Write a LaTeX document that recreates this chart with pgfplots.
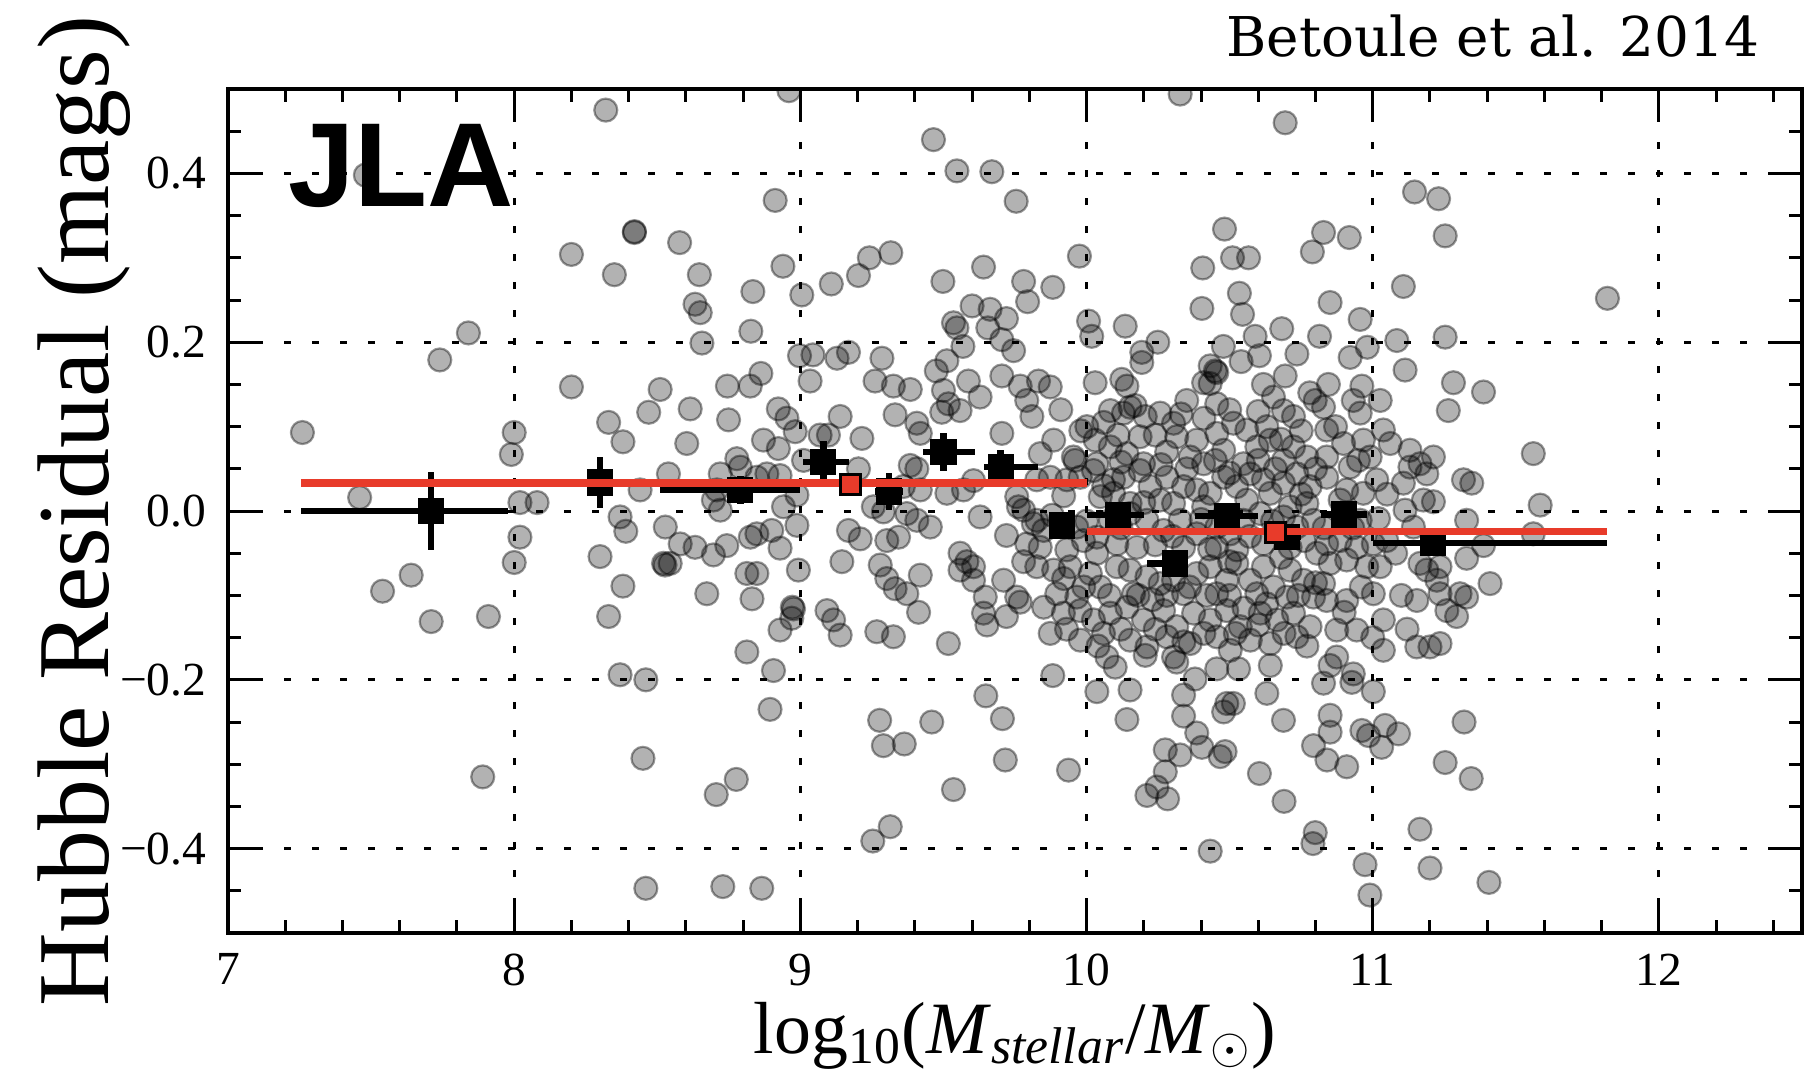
\documentclass[border=0pt]{standalone}
\usepackage{fontspec}
\setmainfont{Liberation Serif}
\newfontfamily\dejaserif{DejaVu Serif}
\newfontfamily\jlafont{Liberation Sans}
\usepackage{pgfplots}
\pgfplotsset{compat=1.18}
\definecolor{redline}{RGB}{232,59,42}

\begin{document}
\begin{tikzpicture}
\begin{axis}[scale only axis, width=157.4mm, height=84.4mm,
 xmin=7, xmax=12.5, ymin=-0.5, ymax=0.5,
 xtick={7,8,9,10,11,12}, xticklabels={7,8,9,10,11,12},
 ytick={-0.4,-0.2,0,0.2,0.4}, yticklabels={−0.4,−0.2,0.0,0.2,0.4},
 minor xtick={7.2,7.4,7.6,7.8,8.2,8.4,8.6,8.8,9.2,9.4,9.6,9.8,10.2,10.4,10.6,10.8,11.2,11.4,11.6,11.8,12.2,12.4},
 minor ytick={-0.45,-0.35,-0.3,-0.25,-0.15,-0.1,-0.05,0.05,0.1,0.15,0.25,0.3,0.35,0.45},
 tick align=inside, major tick length=3.3mm, minor tick length=1.3mm,
 tick style={line width=0.3mm, black},
 axis line style={line width=0.35mm},
 grid=major, major grid style={line width=0.3mm, black, dash pattern=on 0.7mm off 2.1mm},
 ticklabel style={font=\fontsize{13.5}{14}\selectfont},
 xticklabel style={inner sep=0pt, yshift=-2mm},
 yticklabel style={inner sep=0pt, xshift=-2.1mm},
 clip marker paths=true]

% supernovae
\addplot[only marks, mark=*, mark size=1.15mm, draw=black, fill=black,
 fill opacity=0.3, draw opacity=0.4, line width=0.22mm] coordinates {
(7.26,0.093) (7.46,0.016) (7.54,-0.095) (7.64,-0.076) (7.71,-0.131) (7.74,0.179) (7.84,0.211) (7.89,-0.315) (7.91,-0.125) (7.48,0.398)
(8.00,0.093) (7.99,0.067) (8.02,-0.031) (8.00,-0.061) (8.02,0.010) (8.08,0.010)
(8.32,0.475) (8.42,0.330) (8.42,0.331) (8.20,0.304) (8.35,0.280) (8.20,0.147) (8.33,0.105) (8.38,0.082) (8.47,0.117)
(8.30,-0.054) (8.38,-0.089) (8.33,-0.125) (8.37,-0.194) (8.39,-0.024) (8.37,-0.007) (8.46,-0.200) (8.45,-0.293) (8.46,-0.447) (8.44,0.025)
(8.96,0.498) (9.465,0.44) (9.547,0.403) (9.669,0.402) (9.754,0.367) (8.912,0.368) (8.578,0.318) (8.647,0.28) (8.939,0.29) (8.834,0.26)
(9.005,0.256) (9.108,0.269) (9.203,0.279) (9.241,0.30) (9.316,0.306) (9.498,0.272) (9.64,0.289) (9.78,0.272) (9.794,0.248) (8.632,0.245)
(8.65,0.235) (8.827,0.213) (8.656,0.199) (9.60,0.243) (9.663,0.239) (9.72,0.228) (9.535,0.223) (9.547,0.217) (9.655,0.217) (9.568,0.195)
(9.704,0.203) (9.745,0.19) (9.512,0.178) (9.475,0.166) (8.997,0.184) (9.044,0.185) (9.128,0.181) (9.168,0.188) (9.285,0.181) (8.862,0.163)
(9.034,0.154) (8.745,0.148) (8.825,0.148) (9.261,0.154) (9.325,0.148) (9.384,0.144) (9.587,0.154) (9.704,0.16) (9.768,0.148) (9.832,0.154) (8.51,0.144)
(8.615,0.121) (8.749,0.108) (8.603,0.080) (8.871,0.084) (8.923,0.074) (8.923,0.121) (8.953,0.110) (8.982,0.094) (9.139,0.112) (9.098,0.090)
(9.215,0.086) (9.331,0.114) (9.407,0.104) (9.419,0.092) (9.500,0.143) (9.517,0.127) (9.494,0.117) (9.558,0.119) (9.628,0.135) (9.704,0.092)
(9.791,0.131) (9.809,0.112) (8.539,0.044) (8.720,0.044) (8.790,0.052) (8.848,0.040) (8.883,0.044) (8.929,0.042) (8.778,0.062) (9.011,0.060)
(9.069,0.090) (9.203,0.050) (9.384,0.054) (9.407,0.050) (9.360,0.029) (9.419,0.025) (9.512,0.021) (9.570,0.025) (9.605,0.036) (9.756,0.017)
(9.780,0.001) (8.708,0.025) (8.696,0.013) (8.720,0.001) (8.941,0.005) (8.988,0.019) (8.528,-0.019) (8.580,-0.039) (8.632,-0.043) (8.696,-0.052)
(8.743,-0.041) (8.522,-0.062) (8.527,-0.064) (8.545,-0.062) (8.825,-0.031) (8.848,-0.027) (8.900,-0.023) (8.929,-0.044) (8.988,-0.017) (8.813,-0.074)
(8.848,-0.074) (8.673,-0.098) (8.831,-0.104) (8.993,-0.070) (8.976,-0.116) (8.972,-0.114) (8.970,-0.127) (8.929,-0.141) (8.813,-0.167) (9.145,-0.060)
(9.168,-0.023) (9.209,-0.033) (9.093,-0.118) (9.116,-0.129) (9.139,-0.147) (9.267,-0.143) (9.325,-0.149) (9.279,-0.064) (9.302,-0.080) (9.331,-0.092)
(9.372,-0.098) (9.413,-0.120) (9.302,-0.035) (9.343,-0.031) (9.290,-0.001) (9.419,-0.076) (9.372,-0.003) (9.407,-0.011) (9.454,-0.019) (9.517,-0.157)
(9.558,-0.050) (9.582,-0.060) (9.558,-0.070) (9.605,-0.066) (9.605,-0.082) (9.710,-0.082) (9.756,-0.102) (9.646,-0.102) (9.640,-0.121) (9.652,-0.135)
(9.720,-0.125) (9.768,-0.108) (9.720,-0.029) (9.791,-0.039) (9.814,-0.015) (9.762,0.005) (9.780,-0.060) (9.826,-0.066) (9.628,-0.007) (9.255,0.005)
(8.906,-0.189) (8.894,-0.235) (8.776,-0.318) (8.706,-0.336) (8.729,-0.445) (8.865,-0.447) (9.277,-0.248) (9.290,-0.278) (9.363,-0.276) (9.459,-0.250)
(9.648,-0.219) (9.706,-0.246) (9.716,-0.295) (9.535,-0.330) (9.314,-0.374) (9.253,-0.391)
(10.327,0.494) (10.694,0.460) (9.975,0.302) (10.482,0.334) (10.510,0.300) (10.566,0.300) (10.406,0.288) (10.789,0.307) (10.828,0.330) (9.882,0.265)
(10.403,0.240) (10.534,0.258) (10.545,0.233) (10.007,0.225) (10.018,0.207) (10.135,0.219) (10.249,0.200) (10.193,0.188) (10.193,0.176) (10.478,0.195)
(10.589,0.207) (10.604,0.184) (10.682,0.216) (10.735,0.186) (10.814,0.207) (10.851,0.247) (10.540,0.177) (10.432,0.172) (10.455,0.164) (10.450,0.166)
(10.409,0.152) (10.694,0.160) (10.618,0.150) (10.030,0.152) (10.123,0.156) (10.141,0.148) (10.845,0.150)
(9.873,0.147) (10.083,0.119) (10.129,0.116) (10.152,0.123) (10.205,0.112) (10.257,0.116) (10.350,0.131) (10.432,0.151) (10.455,0.127) (10.653,0.135)
(10.688,0.119) (10.723,0.112) (10.799,0.131)
(9.885,0.084) (9.838,0.068) (9.954,0.064) (10.001,0.100) (10.030,0.084) (10.083,0.076) (10.141,0.068) (10.187,0.088) (10.304,0.104) (10.315,0.088)
(10.385,0.084) (10.455,0.092) (10.479,0.072) (10.513,0.104) (10.560,0.096) (10.595,0.076) (10.642,0.084) (10.688,0.060) (10.723,0.076) (10.770,0.064)
(10.036,0.056) (10.199,0.056) (10.362,0.064) (10.409,0.056) (10.548,0.056)
(9.826,0.037) (9.873,0.040) (9.931,0.037) (9.978,0.040) (10.024,0.048) (10.094,0.037) (10.129,0.040) (10.187,0.048) (10.222,0.029) (10.281,0.040)
(10.339,0.029) (10.385,0.025) (10.432,0.021) (10.479,0.040) (10.525,0.029) (10.572,0.044) (10.618,0.037) (10.642,0.021) (10.688,0.033) (10.735,0.044)
(10.781,0.029) (10.048,0.017) (10.094,0.021) (10.152,0.009) (10.257,0.013) (10.304,0.009) (10.409,0.005) (10.560,0.013) (10.711,0.005) (10.770,0.009)
(9.826,-0.011) (9.850,-0.023) (9.966,-0.019) (9.989,-0.035) (10.036,-0.031) (10.083,-0.011) (10.152,-0.003) (10.211,-0.011) (10.269,-0.023) (10.327,-0.011)
(10.385,-0.027) (10.455,-0.019) (10.502,-0.027) (10.548,-0.011) (10.607,-0.003) (10.688,-0.007) (10.735,-0.019) (10.793,-0.011) (9.838,-0.043) (9.931,-0.046)
(10.036,-0.050) (10.106,-0.039) (10.176,-0.043) (10.339,-0.043) (10.455,-0.043) (10.525,-0.046) (10.618,-0.039) (10.711,-0.043) (10.805,-0.050)
(9.885,-0.070) (9.943,-0.066) (10.013,-0.074) (10.048,-0.090) (10.106,-0.066) (10.152,-0.070) (10.211,-0.078) (10.257,-0.086) (10.304,-0.082) (10.385,-0.074)
(10.432,-0.066) (10.490,-0.082) (10.525,-0.062) (10.572,-0.082) (10.618,-0.066) (10.653,-0.090) (10.711,-0.070) (10.758,-0.082) (9.896,-0.098) (9.966,-0.102)
(10.164,-0.098) (10.339,-0.098) (10.455,-0.098) (10.595,-0.098) (10.700,-0.102) (10.793,-0.102)
(9.850,-0.114) (9.919,-0.121) (9.978,-0.118) (10.024,-0.129) (10.083,-0.121) (10.141,-0.114) (10.199,-0.129) (10.269,-0.118) (10.315,-0.137) (10.374,-0.121)
(10.432,-0.129) (10.490,-0.118) (10.537,-0.137) (10.607,-0.121) (10.665,-0.129) (10.723,-0.121) (10.781,-0.137) (9.873,-0.145) (9.978,-0.153) (10.059,-0.145)
(10.152,-0.153) (10.211,-0.161) (10.281,-0.149) (10.362,-0.157) (10.455,-0.149) (10.502,-0.165) (10.572,-0.153) (10.642,-0.157) (10.735,-0.149)
(9.91,0.12) (9.98,0.095) (10.06,0.105) (10.11,0.09) (10.17,0.125) (10.24,0.09) (10.28,0.07) (10.33,0.115) (10.41,0.11) (10.50,0.12)
(10.60,0.118) (10.63,0.10) (10.75,0.095) (10.78,0.14) (10.68,0.085)
(9.92,0.018) (9.96,0.06) (10.06,0.03) (10.12,0.058) (10.20,0.01) (10.26,0.055) (10.35,0.05) (10.45,0.06) (10.50,0.045) (10.60,0.06)
(10.66,0.05) (10.75,0.02) (10.80,0.05)
(9.88,-0.005) (10.00,-0.012) (10.12,-0.02) (10.24,-0.04) (10.30,-0.03) (10.40,-0.01) (10.43,-0.045) (10.50,-0.06) (10.57,-0.03) (10.65,-0.012)
(10.68,-0.055) (10.76,-0.035) (10.83,-0.02)
(9.92,-0.08) (9.99,-0.09) (10.08,-0.10) (10.18,-0.10) (10.23,-0.105) (10.28,-0.10) (10.36,-0.09) (10.42,-0.10) (10.50,-0.10) (10.55,-0.115)
(10.63,-0.11) (10.74,-0.10) (10.80,-0.085)
(9.93,-0.14) (10.04,-0.16) (10.12,-0.14) (10.24,-0.14) (10.34,-0.155) (10.41,-0.145) (10.52,-0.145) (10.60,-0.135) (10.69,-0.145) (10.77,-0.16)
(10.87,0.10) (10.95,0.06) (11.05,0.02) (10.93,-0.02) (11.08,-0.05) (10.96,-0.09) (11.10,-0.10) (10.90,-0.12) (11.00,-0.15) (11.12,-0.14)
(9.882,-0.195) (10.036,-0.214) (10.152,-0.212) (10.141,-0.247) (10.339,-0.218) (10.339,-0.243) (10.379,-0.199) (10.385,-0.263) (10.403,-0.280) (10.275,-0.283)
(10.327,-0.289) (10.467,-0.291) (10.484,-0.285) (10.490,-0.228) (10.513,-0.228) (10.479,-0.238) (10.630,-0.216) (10.688,-0.248) (10.793,-0.278) (10.828,-0.204)
(10.840,-0.295) (10.851,-0.242) (10.851,-0.262) (10.275,-0.309) (10.246,-0.327) (10.211,-0.337) (10.283,-0.341) (10.604,-0.311) (10.690,-0.344) (10.799,-0.381)
(10.791,-0.394) (10.432,-0.403) (9.937,-0.307)
(10.071,-0.173) (10.100,-0.185) (10.205,-0.171) (10.304,-0.173) (10.315,-0.179) (10.455,-0.187) (10.531,-0.187) (10.642,-0.183) (10.851,-0.183)
(10.932,-0.193) (10.927,-0.203) (11.002,-0.214) (10.962,-0.260) (10.985,-0.266) (11.043,-0.254) (11.090,-0.264) (11.031,-0.280) (10.909,-0.303) (11.319,-0.250)
(11.253,-0.298) (11.344,-0.317) (11.165,-0.377) (10.973,-0.419) (11.200,-0.423) (11.406,-0.440) (10.990,-0.455)
(11.146,0.378) (11.230,0.370) (11.253,0.326) (10.918,0.324) (11.107,0.266) (10.956,0.227) (10.981,0.194) (10.921,0.182) (11.084,0.202) (11.253,0.206)
(11.113,0.167) (10.962,0.148) (11.282,0.152) (11.387,0.141) (11.820,0.252)
(11.026,0.131) (10.932,0.131) (10.828,0.123) (10.956,0.116) (11.264,0.119)
(10.839,0.096) (10.898,0.080) (10.967,0.084) (11.037,0.096) (11.061,0.080) (10.839,0.064) (10.921,0.052) (10.991,0.064) (11.014,0.037) (10.839,0.040)
(10.909,0.025) (10.967,0.021) (10.886,0.013)
(11.130,0.072) (11.212,0.064) (11.130,0.052) (11.165,0.056) (11.189,0.044) (11.107,0.033) (11.317,0.037) (11.346,0.033) (11.561,0.068)
(11.177,0.013) (11.212,0.011) (11.113,0.001) (11.020,-0.009) (10.956,-0.011) (11.585,0.007) (11.328,-0.011) (11.142,-0.019) (11.561,-0.027) (11.387,-0.041) (11.328,-0.056)
(10.839,-0.039) (10.886,-0.035) (10.944,-0.043) (11.002,-0.039) (11.049,-0.035) (10.851,-0.062) (10.909,-0.058) (10.979,-0.066) (11.026,-0.066) (11.165,-0.062)
(11.189,-0.070) (11.235,-0.066) (11.224,-0.082) (11.410,-0.086) (11.328,-0.102) (11.305,-0.098)
(10.828,-0.086) (10.839,-0.106) (10.909,-0.106) (11.002,-0.098) (11.154,-0.106) (11.235,-0.098) (11.259,-0.118) (11.293,-0.125) (11.037,-0.129) (10.874,-0.141)
(10.944,-0.141) (11.154,-0.161) (11.200,-0.161) (11.235,-0.157) (11.037,-0.165) (10.874,-0.173)
};

% binned means
\addplot[only marks, mark=square*, mark size=1.25mm, black,
 error bars/.cd, x dir=both, x explicit, y dir=both, y explicit,
 error bar style={line width=0.65mm, black}, error mark=none] coordinates {
(7.71,0.000) += (0.27,0.046) -= (0.455,0.046)
(8.30,0.034) += (0.17,0.030) -= (0.30,0.030)
(8.79,0.025) += (0.21,0.017) -= (0.28,0.017)
(9.08,0.058) += (0.09,0.025) -= (0.07,0.025)
(9.31,0.023) += (0.05,0.022) -= (0.05,0.022)
(9.50,0.070) += (0.11,0.022) -= (0.07,0.022)
(9.70,0.052) += (0.13,0.020) -= (0.06,0.020)
(9.915,-0.017) += (0.02,0.013) -= (0.02,0.013)
(10.11,-0.005) += (0.09,0.010) -= (0.11,0.010)
(10.31,-0.062) += (0.04,0.012) -= (0.10,0.012)
(10.49,-0.006) += (0.11,0.010) -= (0.11,0.010)
(10.70,-0.031) += (0.05,0.010) -= (0.05,0.010)
(10.90,-0.004) += (0.08,0.014) -= (0.08,0.014)
(11.21,-0.038) += (0.61,0.010) -= (0.21,0.010)
};

% step fit
\addplot[redline, line width=0.75mm] coordinates {(7.255,0.033) (10.0,0.033)};
\addplot[redline, line width=0.75mm] coordinates {(10.0,-0.024) (11.82,-0.024)};
\addplot[only marks, mark=square*, mark size=1.0mm, mark options={fill=redline, draw=black, line width=0.3mm}]
 coordinates {(9.176,0.032) (10.659,-0.025)};

\coordinate (BL) at (rel axis cs:0,0);
\coordinate (TR) at (rel axis cs:1,1);
\coordinate (LM) at (rel axis cs:0,0.5);
\coordinate (BM) at (rel axis cs:0.5,0);
\coordinate (JL) at (rel axis cs:0.038,0.861);
\coordinate (BT) at (rel axis cs:0.9733,1);
\end{axis}

\node[anchor=base west, inner sep=0pt, font=\jlafont\bfseries\fontsize{34}{34}\selectfont] at (JL) {JLA};
\node[anchor=base east, inner sep=0pt, font=\dejaserif\fontsize{15.6}{16}\selectfont] at ([yshift=3.2mm]BT) {Betoule et al. 2014};
\node[rotate=90, anchor=base, inner sep=0pt, font=\fontsize{29}{30}\selectfont] at ([xshift=-11.9mm]LM) {Hubble Residual (mags)};
\node[anchor=base, inner sep=0pt, font=\fontsize{21}{22}\selectfont] at ([yshift=-12mm]BM)
 {log\textsubscript{10}(\textit{M}\textsubscript{\textit{stellar}}/\textit{M}\textsubscript{$\odot$})};

\pgfresetboundingbox
\path[use as bounding box] ([xshift=-22.8mm,yshift=-14.8mm]BL) rectangle ([xshift=0.2mm,yshift=8.9mm]TR);
\end{tikzpicture}
\end{document}
